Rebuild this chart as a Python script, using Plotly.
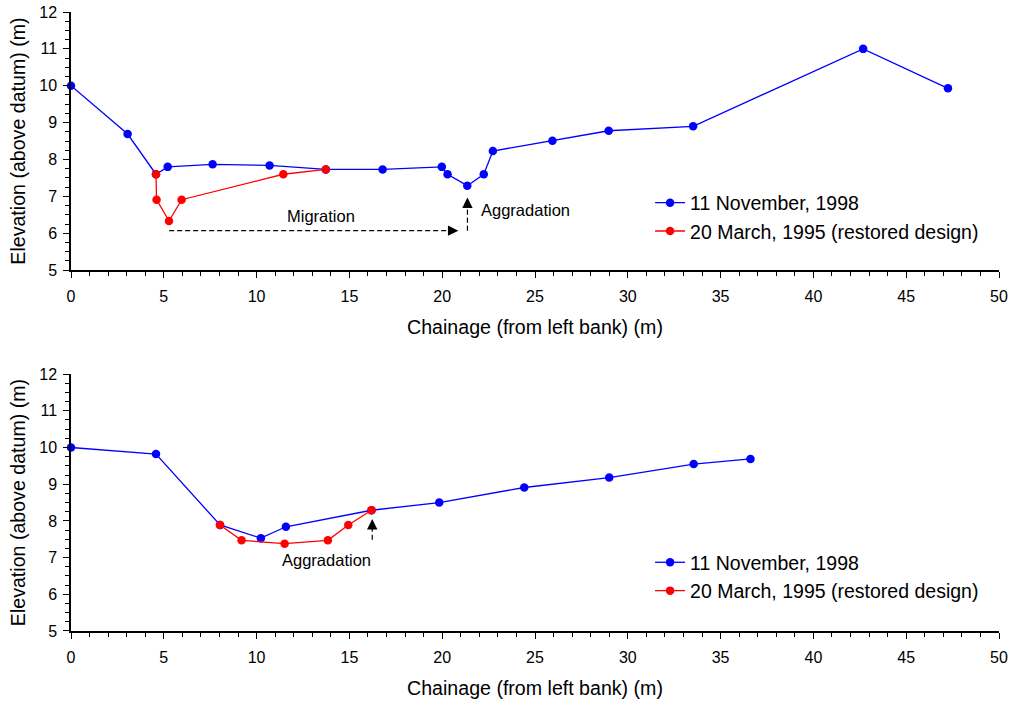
import plotly.graph_objects as go

# ---- data ----
top_nov_x = [0, 3.05, 4.58, 5.21, 7.63, 10.70, 13.73, 16.79, 19.98, 20.29, 21.35, 22.24, 22.73, 25.94, 28.97, 33.52, 42.68, 47.25]
top_nov_y = [10.0, 8.69, 7.60, 7.80, 7.87, 7.84, 7.73, 7.73, 7.80, 7.60, 7.29, 7.60, 8.23, 8.51, 8.78, 8.90, 11.0, 9.93]
top_mar_x = [4.58, 4.61, 5.28, 5.96, 11.44, 13.73]
top_mar_y = [7.60, 6.91, 6.33, 6.91, 7.60, 7.73]

bot_nov_x = [0, 4.58, 8.03, 10.23, 11.58, 16.19, 19.84, 24.42, 29.0, 33.55, 36.61]
bot_nov_y = [10.0, 9.82, 7.89, 7.53, 7.84, 8.29, 8.50, 8.91, 9.18, 9.55, 9.69]
bot_mar_x = [8.03, 9.19, 11.51, 13.84, 14.94, 16.19]
bot_mar_y = [7.89, 7.47, 7.38, 7.47, 7.89, 8.29]

series_names = ["11 November, 1998", "20 March, 1995 (restored design)"]
x_title = "Chainage (from left bank) (m)"
y_title = "Elevation (above datum) (m)"

# annotation anchors (data coords)
migration_y = 6.07
migration_x0, migration_x1 = 5.29, 20.87
top_aggr_x, top_aggr_y0, top_aggr_y1 = 21.36, 6.07, 6.97
bot_aggr_x, bot_aggr_y0, bot_aggr_y1 = 16.23, 7.49, 8.05

FONT = "Liberation Sans, Arial, sans-serif"
BLUE = "#0000FF"
RED = "#FF0000"

fig = go.Figure()

def add_series(x, y, name, color, xa, ya, legend, group, show=True):
    fig.add_trace(go.Scatter(
        x=x, y=y, name=name, mode="lines+markers",
        line=dict(color=color, width=1.3),
        marker=dict(color=color, size=8.5),
        xaxis=xa, yaxis=ya, legend=legend, legendgroup=group,
        cliponaxis=False, showlegend=show,
    ))

add_series(top_nov_x, top_nov_y, series_names[0], BLUE, "x", "y", "legend", "a")
add_series(top_mar_x, top_mar_y, series_names[1], RED, "x", "y", "legend", "b")
add_series(bot_nov_x, bot_nov_y, series_names[0], BLUE, "x2", "y2", "legend2", "c")
add_series(bot_mar_x, bot_mar_y, series_names[1], RED, "x2", "y2", "legend2", "d")

axis_common = dict(
    showline=True, linecolor="black", linewidth=1.5, mirror=False,
    ticks="outside", ticklen=6, tickwidth=1.2, tickcolor="black",
    showgrid=False, zeroline=False,
    tickfont=dict(family=FONT, size=16, color="black"),
    automargin=False, ticklabeloverflow="allow",
)
xaxis_common = dict(axis_common, range=[0, 50], dtick=5, tick0=0,
                    minor=dict(dtick=1, ticks="outside", ticklen=4, tickcolor="black", tickwidth=1.2),
                    ticklabelstandoff=5,
                    title=dict(text=x_title, font=dict(family=FONT, size=19.6, color="black"), standoff=16))
yaxis_common = dict(axis_common, range=[5, 12], dtick=1, tick0=5,
                    minor=dict(dtick=0.25, ticks="outside", ticklen=4, tickcolor="black", tickwidth=1.2),
                    ticklabelstandoff=3,
                    title=dict(text=y_title, font=dict(family=FONT, size=19.6, color="black"), standoff=8))

legend_common = dict(
    font=dict(family=FONT, size=19.5, color="black"),
    bgcolor="rgba(0,0,0,0)", borderwidth=0,
    itemwidth=30, tracegroupgap=0, xanchor="left", yanchor="top",
)

fig.update_layout(
    width=1016, height=702,
    margin=dict(l=71, r=17, t=12, b=71),
    paper_bgcolor="white", plot_bgcolor="white",
    font=dict(family=FONT, color="black"),
    xaxis=dict(xaxis_common, anchor="y", domain=[0, 1]),
    yaxis=dict(yaxis_common, anchor="x", domain=[0.583, 1]),
    xaxis2=dict(xaxis_common, anchor="y2", domain=[0, 1]),
    yaxis2=dict(yaxis_common, anchor="x2", domain=[0, 0.415]),
    legend=dict(legend_common, x=0.624, y=0.723),
    legend2=dict(legend_common, x=0.624, y=0.142),
    showlegend=True,
)

dash = "5px,3px"
# dashed arrow shafts
fig.add_shape(type="line", xref="x", yref="y", x0=migration_x0, x1=migration_x1 - 0.4,
              y0=migration_y, y1=migration_y, line=dict(color="black", width=1.2, dash=dash))
fig.add_shape(type="line", xref="x", yref="y", x0=top_aggr_x, x1=top_aggr_x,
              y0=top_aggr_y0, y1=top_aggr_y1 - 0.15, line=dict(color="black", width=1.2, dash=dash))
fig.add_shape(type="line", xref="x2", yref="y2", x0=bot_aggr_x, x1=bot_aggr_x,
              y0=bot_aggr_y0, y1=bot_aggr_y1 - 0.15, line=dict(color="black", width=1.2, dash=dash))

def arrowhead(xref, yref, x, y, axp, ayp):
    fig.add_annotation(xref=xref, yref=yref, x=x, y=y, ax=axp, ay=ayp, text="",
                       showarrow=True, arrowhead=2, arrowsize=1.6, arrowwidth=1.3,
                       arrowcolor="black", standoff=0, startstandoff=0)

arrowhead("x", "y", migration_x1, migration_y, -8, 0)
arrowhead("x", "y", top_aggr_x, top_aggr_y1, 0, 8)
arrowhead("x2", "y2", bot_aggr_x, bot_aggr_y1, 0, 8)

ann_font = dict(family=FONT, size=16.5, color="black")
fig.add_annotation(xref="x", yref="y", x=13.48, y=6.46, text="Migration", showarrow=False,
                   font=ann_font, xanchor="center", yanchor="middle")
fig.add_annotation(xref="x", yref="y", x=21.99, y=6.62, text="Aggradation", showarrow=False,
                   font=ann_font, xanchor="left", yanchor="middle")
fig.add_annotation(xref="x2", yref="y2", x=13.77, y=6.93, text="Aggradation", showarrow=False,
                   font=ann_font, xanchor="center", yanchor="middle")

fig.write_html(
    "out.html",
    config={"displayModeBar": False},
    post_script="document.body.style.margin='0';document.body.style.overflow='hidden';",
)
